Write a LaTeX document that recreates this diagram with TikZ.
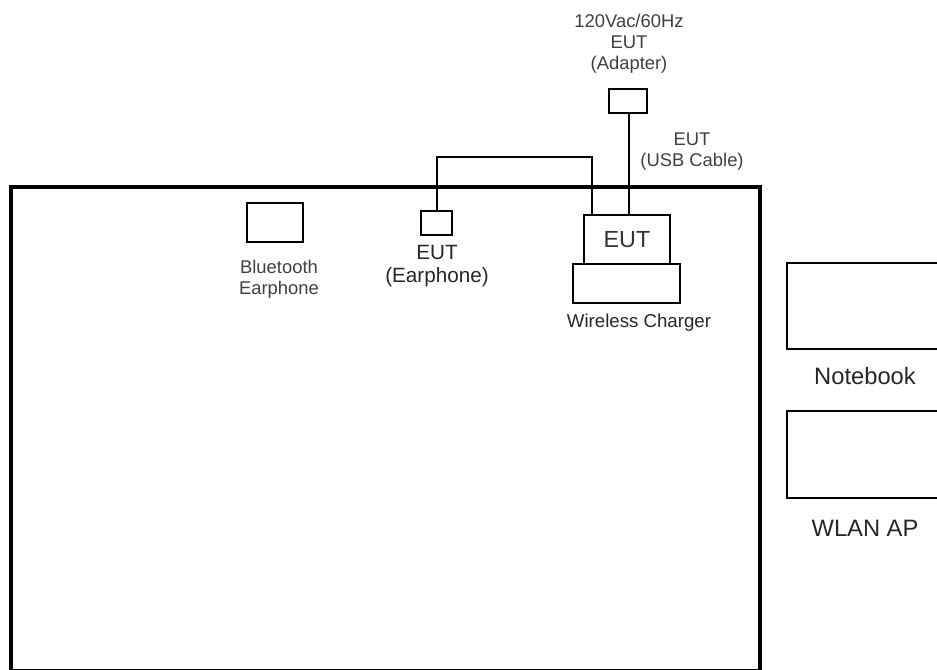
\documentclass[tikz,border=0pt]{standalone}
\usepackage{fontspec}
\setmainfont{Liberation Sans}
\begin{document}
\begin{tikzpicture}[x=0.75pt,y=-0.75pt,
  frame/.style={draw=black,line width=3pt},
  box/.style={draw=black,line width=1.6pt},
  wire/.style={draw=black,line width=1.5pt},
  smalltxt/.style={font=\fontsize{13.8pt}{15.8pt}\selectfont,text=black!75,align=center,inner sep=0pt},
  midtxt/.style={font=\fontsize{15.5pt}{17pt}\selectfont,text=black!85,align=center,inner sep=0pt},
  bigtxt/.style={font=\fontsize{17.8pt}{19pt}\selectfont,text=black!85,align=center,inner sep=0pt}]
\useasboundingbox (0,0) rectangle (937,669);
% main frame
\draw[frame] (11,186.5) rectangle (760,670.5);
% boxes
\node[box,minimum width=38*0.75pt,minimum height=24*0.75pt,inner sep=0pt] (adapter) at (628,101) {};
\node[box,minimum width=86*0.75pt,minimum height=49*0.75pt,inner sep=0pt] (eut) at (627,239.5) {};
\node[font=\fontsize{17.5pt}{20pt}\selectfont,text=black!80] at (eut) {EUT};
\node[box,minimum width=107*0.75pt,minimum height=39*0.75pt,inner sep=0pt] (charger) at (626.5,283.5) {};
\node[box,minimum width=56*0.75pt,minimum height=39*0.75pt,inner sep=0pt] (bt) at (275,222.5) {};
\node[box,minimum width=31*0.75pt,minimum height=24*0.75pt,inner sep=0pt] (ear) at (436.5,223) {};
\draw[box] (787,263) rectangle (960,349);
\coordinate (nb) at (865,306);
\draw[box] (787,411) rectangle (960,498);
\coordinate (ap) at (865,454);
% wires
\coordinate (c1) at (436.5,157);
\coordinate (c2) at (592,157);
\draw[wire] (ear.north) -- (c1) -- (c2) -- (592,215);
\draw[wire] (629,113) -- (629,215);
% labels
\node[smalltxt] (lad) at (629,44) {120Vac/60Hz\\EUT\\(Adapter)};
\node[smalltxt] (lusb) at (692,152) {EUT\\(USB Cable)};
\node[smalltxt] (lbt) at (279,279) {Bluetooth\\Earphone};
\node[midtxt] (lear) at (437,266) {EUT\\(Earphone)};
\node[midtxt,font=\fontsize{14pt}{16.5pt}\selectfont] (lch) at (639,323) {Wireless Charger};
\node[bigtxt] (lnb) at (865,376) {Notebook};
\node[bigtxt] (lap) at (865,528) {WLAN AP};
\end{tikzpicture}
\end{document}
